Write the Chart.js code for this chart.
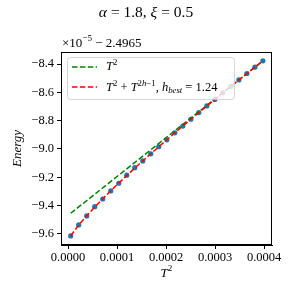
<!DOCTYPE html>
<html>
<head>
<meta charset="utf-8">
<script src="https://cdn.jsdelivr.net/npm/chart.js@4.4.0/dist/chart.umd.min.js"></script>
<style>
html, body { margin: 0; padding: 0; background: #fff; }
</style>
</head>
<body>
<canvas id="chart" width="292" height="292"></canvas>
<script>
// data (y values shown as x1e-5 - 2.4965)
const tSquared = [0.0000055, 0.0000218, 0.0000382, 0.0000545, 0.0000708, 0.0000872, 0.0001035,
    0.0001198, 0.0001361, 0.0001525, 0.0001688, 0.0001851, 0.0002015, 0.0002178, 0.0002341,
    0.0002505, 0.0002668, 0.0002831, 0.0002994, 0.0003158, 0.0003321, 0.0003484, 0.0003648,
    0.0003811, 0.0003974];
const energy = [-9.614, -9.536, -9.473, -9.407, -9.353, -9.296, -9.242, -9.185, -9.132, -9.084,
    -9.034, -8.984, -8.935, -8.886, -8.838, -8.790, -8.743, -8.696, -8.650, -8.603,
    -8.558, -8.512, -8.467, -8.422, -8.377];
const fitBest = [-9.614, -9.537, -9.471, -9.410, -9.352, -9.295, -9.241, -9.188, -9.135, -9.084,
    -9.034, -8.984, -8.935, -8.886, -8.838, -8.790, -8.743, -8.696, -8.650, -8.603,
    -8.558, -8.512, -8.467, -8.422, -8.377];
const fitT2X = [0.0000055, 0.0003974];
const fitT2Y = [-9.454, -8.378];

const xTicks = [0, 0.0001, 0.0002, 0.0003, 0.0004];
const xTickLabels = ["0.0000", "0.0001", "0.0002", "0.0003", "0.0004"];
const yTicks = [-9.6, -9.4, -9.2, -9.0, -8.8, -8.6, -8.4];
const yTickLabels = ["\u22129.6", "\u22129.4", "\u22129.2", "\u22129.0", "\u22128.8", "\u22128.6", "\u22128.4"];

const SERIF = "'Liberation Serif', 'DejaVu Serif', serif";

function toPoints(xs, ys) {
    return xs.map((x, i) => ({ x: x, y: ys[i] }));
}

// draw a run of text pieces with italics / super / subscripts
function drawMath(ctx, x, y, parts, size, align) {
    const pieces = parts.map(p => {
        const s = (p.sup || p.sub) ? size * 0.7 : size;
        const font = (p.it ? "italic " : "") + s + "px " + SERIF;
        ctx.font = font;
        return { t: p.t, font: font, w: ctx.measureText(p.t).width, dy: p.sup ? -size * 0.38 : (p.sub ? size * 0.22 : 0) };
    });
    const total = pieces.reduce((a, p) => a + p.w, 0);
    let cx = align === "center" ? x - total / 2 : x;
    ctx.textAlign = "left";
    ctx.textBaseline = "middle";
    pieces.forEach(p => {
        ctx.font = p.font;
        ctx.fillText(p.t, cx, y + p.dy);
        cx += p.w;
    });
    return total;
}

const decorPlugin = {
    id: "decor",
    afterDatasetsDraw(chart) {
        const ctx = chart.ctx;
        const a = chart.chartArea;
        ctx.save();
        // frame
        ctx.strokeStyle = "#000";
        ctx.lineWidth = 1;
        ctx.strokeRect(a.left + 0.5, a.top + 0.5, a.right - a.left - 1, a.bottom - a.top - 1);

        // legend
        ctx.globalAlpha = 0.8;
        ctx.fillStyle = "#fff";
        ctx.strokeStyle = "#ccc";
        ctx.beginPath();
        ctx.roundRect(67.5, 57.5, 167, 42, 3);
        ctx.fill();
        ctx.stroke();
        ctx.globalAlpha = 1;

        ctx.lineWidth = 1.5;
        ctx.setLineDash([5.5, 2.4]);
        ctx.strokeStyle = "#008000";
        ctx.beginPath(); ctx.moveTo(72, 67); ctx.lineTo(97, 67); ctx.stroke();
        ctx.strokeStyle = "#ff0000";
        ctx.beginPath(); ctx.moveTo(72, 87); ctx.lineTo(97, 87); ctx.stroke();
        ctx.setLineDash([]);

        ctx.fillStyle = "#000";
        drawMath(ctx, 106, 67, [{ t: "T", it: true }, { t: "2", sup: true }], 12.5);
        drawMath(ctx, 106, 88, [
            { t: "T", it: true }, { t: "2", sup: true }, { t: " + " },
            { t: "T", it: true }, { t: "2", sup: true }, { t: "h", sup: true, it: true },
            { t: "\u22121", sup: true }, { t: ", " }, { t: "h", it: true },
            { t: "best", sub: true, it: true }, { t: " = 1.24" }
        ], 12.5);

        // title, offset, axis labels
        drawMath(ctx, 146, 13, [{ t: "\u03b1", it: true }, { t: " = 1.8, " }, { t: "\u03be", it: true }, { t: " = 0.5" }], 15.5, "center");
        drawMath(ctx, 62, 44, [{ t: "\u00d710" }, { t: "\u22125", sup: true }, { t: " \u2212 2.4965" }], 13);
        drawMath(ctx, (a.left + a.right) / 2, 274, [{ t: "T", it: true }, { t: "2", sup: true }], 13, "center");

        ctx.translate(18, (a.top + a.bottom) / 2);
        ctx.rotate(-Math.PI / 2);
        drawMath(ctx, 0, 0, [{ t: "Energy", it: true }], 13, "center");
        ctx.restore();
    }
};

new Chart(document.getElementById("chart"), {
    type: "scatter",
    data: {
        datasets: [
            {
                label: "data",
                data: toPoints(tSquared, energy),
                backgroundColor: "#1f77b4",
                borderWidth: 0,
                pointRadius: 2.6,
                order: 3
            },
            {
                label: "T2",
                type: "line",
                data: toPoints(fitT2X, fitT2Y),
                borderColor: "#008000",
                borderWidth: 1.5,
                borderDash: [5.5, 2.4],
                pointRadius: 0,
                fill: false,
                order: 2
            },
            {
                label: "best",
                type: "line",
                data: toPoints(tSquared, fitBest),
                borderColor: "#ff0000",
                borderWidth: 1.5,
                borderDash: [5.5, 2.4],
                pointRadius: 0,
                fill: false,
                order: 1
            }
        ]
    },
    options: {
        responsive: false,
        animation: false,
        devicePixelRatio: 1,
        layout: { padding: { left: 0, top: 52, right: 20, bottom: 0 } },
        plugins: {
            legend: { display: false },
            tooltip: { enabled: false }
        },
        scales: {
            x: {
                type: "linear",
                min: -0.0000143,
                max: 0.000416,
                afterBuildTicks: s => { s.ticks = xTicks.map(v => ({ value: v })); },
                afterFit: s => { s.height = 47; },
                ticks: {
                    callback: (v, i) => xTickLabels[i],
                    font: { family: SERIF, size: 12.5 },
                    color: "#000",
                    padding: 1,
                    maxRotation: 0
                },
                grid: { drawOnChartArea: false, drawTicks: true, tickLength: 4, tickColor: "#000" },
                border: { display: true, color: "#000", width: 1 }
            },
            y: {
                type: "linear",
                min: -9.678,
                max: -8.315,
                afterBuildTicks: s => { s.ticks = yTicks.map(v => ({ value: v })); },
                afterFit: s => { s.width = 61; },
                ticks: {
                    callback: (v, i) => yTickLabels[i],
                    font: { family: SERIF, size: 12.5 },
                    color: "#000",
                    padding: 3
                },
                grid: { drawOnChartArea: false, drawTicks: true, tickLength: 4, tickColor: "#000" },
                border: { display: true, color: "#000", width: 1 }
            }
        }
    },
    plugins: [decorPlugin]
});
</script>
</body>
</html>
